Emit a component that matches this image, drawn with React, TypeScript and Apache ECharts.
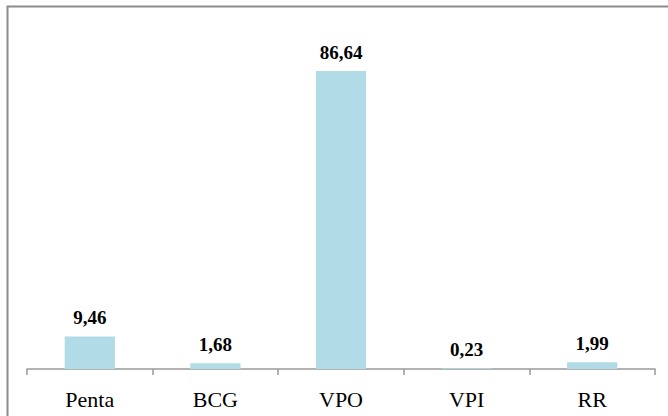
import React, { useEffect, useRef } from "react";
import * as echarts from "echarts";

const categories = ["Penta", "BCG", "VPO", "VPI", "RR"];
const values = [9.46, 1.68, 86.64, 0.23, 1.99];

const SERIF = "Times New Roman, Liberation Serif, DejaVu Serif, serif";

export default function App() {
  const ref = useRef<HTMLDivElement>(null);

  useEffect(() => {
    if (!ref.current) return;
    const chart = echarts.init(ref.current, undefined, { renderer: "svg" });
    chart.setOption({
      animation: false,
      backgroundColor: "#ffffff",
      grid: { left: 27, right: 13, top: 25, bottom: 47 },
      graphic: [
        {
          type: "rect",
          left: 5,
          top: 4,
          shape: { width: 720, height: 520 },
          style: { fill: "none", stroke: "#8c8c8c", lineWidth: 2 },
          silent: true,
        },
      ],
      xAxis: {
        type: "category",
        data: categories,
        axisLine: { lineStyle: { color: "#9a9a9a", width: 1.5 } },
        axisTick: {
          show: true,
          length: 6,
          lineStyle: { color: "#9a9a9a", width: 1.5 },
        },
        axisLabel: {
          color: "#000000",
          fontFamily: SERIF,
          fontSize: 22,
          margin: 19,
        },
      },
      yAxis: {
        type: "value",
        min: 0,
        max: 100,
        show: false,
        splitLine: { show: false },
      },
      series: [
        {
          type: "bar",
          data: values,
          barWidth: "40%",
          itemStyle: { color: "#b1dbe6" },
          label: {
            show: true,
            position: "top",
            distance: 9,
            color: "#000000",
            fontWeight: "bold",
            fontFamily: SERIF,
            fontSize: 19,
            formatter: (p: any) => Number(p.value).toFixed(2).replace(".", ","),
          },
        },
      ],
    });
    return () => chart.dispose();
  }, []);

  return (
    <div
      ref={ref}
      style={{ position: "fixed", left: 0, top: 0, width: 668, height: 416 }}
    />
  );
}
